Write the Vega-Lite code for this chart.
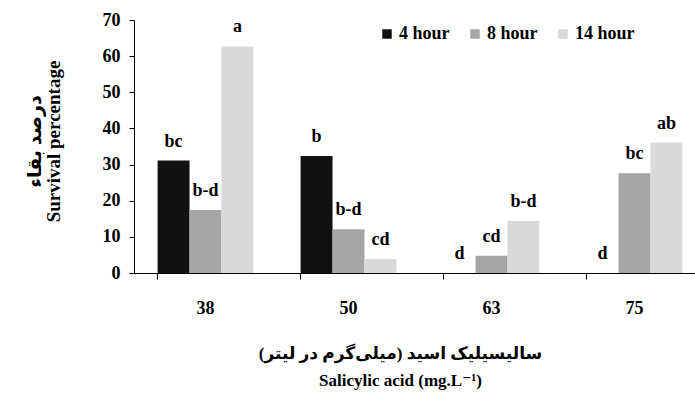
{
  "$schema": "https://vega.github.io/schema/vega-lite/v6.json",
  "width": 561,
  "height": 253,
  "autosize": {"type": "none"},
  "padding": {"left": 134, "top": 20, "right": 0, "bottom": 127},
  "background": "white",
  "config": {
    "view": {"stroke": null},
    "axis": {"grid": false, "domainColor": "black", "tickColor": "black", "labelColor": "black", "titleColor": "black", "labelFont": "Liberation Serif", "labelFontWeight": "bold", "titleFont": "Liberation Serif, DejaVu Sans", "titleFontWeight": "bold"}
  },
  "data": {
    "values": [
      {"conc": "38", "time": "4 hour", "value": 31.1, "label": "bc"},
      {"conc": "38", "time": "8 hour", "value": 17.4, "label": "b-d"},
      {"conc": "38", "time": "14 hour", "value": 62.7, "label": "a"},
      {"conc": "50", "time": "4 hour", "value": 32.4, "label": "b"},
      {"conc": "50", "time": "8 hour", "value": 12.1, "label": "b-d"},
      {"conc": "50", "time": "14 hour", "value": 3.9, "label": "cd"},
      {"conc": "63", "time": "4 hour", "value": 0, "label": "d"},
      {"conc": "63", "time": "8 hour", "value": 4.8, "label": "cd"},
      {"conc": "63", "time": "14 hour", "value": 14.4, "label": "b-d"},
      {"conc": "75", "time": "4 hour", "value": 0, "label": "d"},
      {"conc": "75", "time": "8 hour", "value": 27.6, "label": "bc"},
      {"conc": "75", "time": "14 hour", "value": 36.1, "label": "ab"}
    ]
  },
  "encoding": {
    "x": {
      "field": "conc", "type": "nominal", "sort": ["38", "50", "63", "75"],
      "scale": {"range": [0, 572], "paddingInner": 0.33, "paddingOuter": 0.165},
      "axis": {
        "labelAngle": 0, "labelFontSize": 18, "labelPadding": 20, "tickSize": 6, "bandPosition": 0,
        "title": ["سالیسیلیک اسید (میلی‌گرم در لیتر)", "Salicylic acid (mg.L⁻¹)"],
        "titleFontSize": 17, "titleLineHeight": 27, "titleX": 266, "titleY": 72, "titleAlign": "center", "titleBaseline": "top", "titleAnchor": null
      }
    },
    "xOffset": {"field": "time", "type": "nominal", "sort": ["4 hour", "8 hour", "14 hour"], "scale": {"paddingInner": 0, "paddingOuter": 0}},
    "y": {
      "field": "value", "type": "quantitative",
      "scale": {"domain": [0, 70], "nice": false},
      "axis": {
        "values": [0, 10, 20, 30, 40, 50, 60, 70], "labelFontSize": 18, "tickSize": 5, "labelPadding": 9,
        "title": ["درصد بقاء", "Survival  percentage"],
        "titleFontSize": 19, "titleLineHeight": 19, "titleAngle": -90, "titleX": -109, "titleY": 121, "titleAlign": "center", "titleBaseline": "top"
      }
    }
  },
  "layer": [
    {
      "mark": {"type": "bar"},
      "encoding": {
        "color": {
          "field": "time", "type": "nominal",
          "scale": {"domain": ["4 hour", "8 hour", "14 hour"], "range": ["#111111", "#a6a6a6", "#d9d9d9"]},
          "legend": {
            "title": null, "orient": "none", "direction": "horizontal", "legendX": 244, "legendY": 5,
            "symbolType": "square", "symbolSize": 90, "symbolStrokeWidth": 0, "labelFont": "Liberation Serif", "labelFontWeight": "bold",
            "labelFontSize": 18, "labelColor": "black", "labelOffset": 3, "columnPadding": 16, "padding": 0
          }
        }
      }
    },
    {
      "mark": {"type": "text", "baseline": "alphabetic", "dy": -14, "fontSize": 18, "fontWeight": "bold", "font": "Liberation Serif", "color": "black"},
      "encoding": {"text": {"field": "label"}}
    }
  ]
}
